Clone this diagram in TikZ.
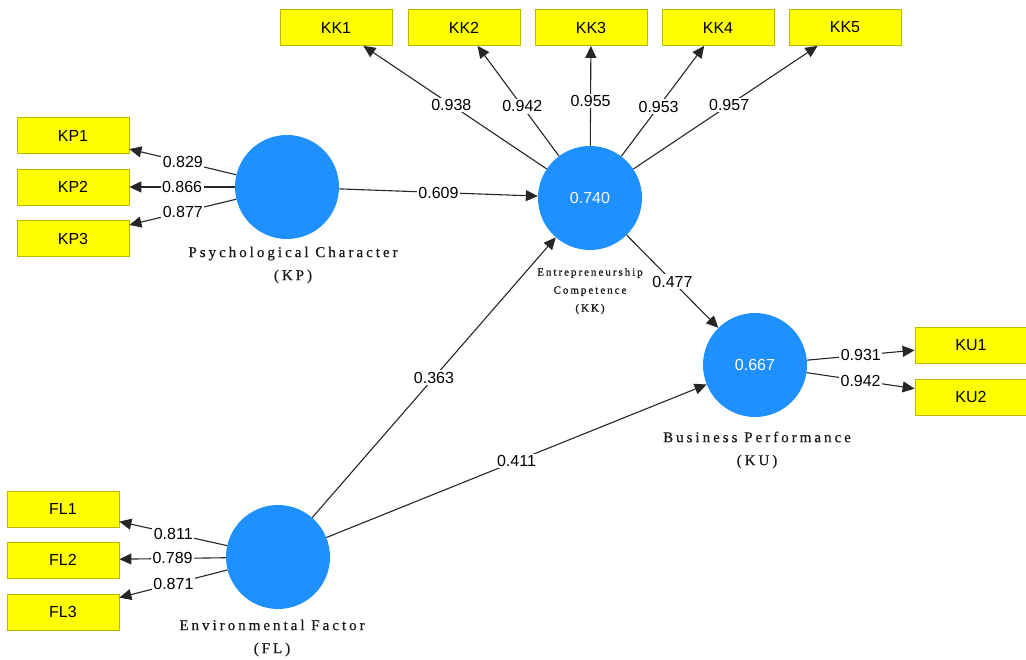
\documentclass[tikz,border=0pt]{standalone}
\usepackage{fontspec}
\setmainfont{Liberation Sans}
\newfontfamily\lvfont[LetterSpace=20,FakeBold=0.6]{Liberation Serif}
\newfontfamily\lvsmallfont[LetterSpace=18,FakeBold=1.2]{Liberation Serif}
\usetikzlibrary{arrows.meta}
\definecolor{lvblue}{RGB}{30,144,255}
\definecolor{mvyellow}{RGB}{255,255,0}
\definecolor{mvborder}{RGB}{185,185,0}
\tikzset{
  lv/.style={circle, fill=lvblue, minimum size=104pt, inner sep=0pt, text=white, font=\fontsize{16}{19}\selectfont},
  mv/.style={rectangle, fill=mvyellow, draw=mvborder, line width=0.8pt, minimum width=112pt, minimum height=36pt, inner sep=0pt, font=\fontsize{16}{19}\selectfont},
  conn/.style={draw=black!85, line width=1.1pt, -{Triangle[length=12pt,width=11pt]}},
  lbl/.style={fill=white, inner sep=1.5pt, text=black, font=\fontsize{16}{19}\selectfont},
  lvname/.style={align=center, text=black!90, font={\lvfont\fontsize{15}{23}\selectfont}},
  lvsmall/.style={align=center, text=black!90, font={\lvsmallfont\fontsize{11}{18}\selectfont}},
}
\begin{document}
\begin{tikzpicture}[x=1pt,y=-1pt]
\useasboundingbox (0,0) rectangle (1026,660);
% latent variables
\node[lv] (kp) at (287,187) {};
\node[lv] (kk) at (590,198) {0.740};
\node[lv] (ku) at (755,365) {0.667};
\node[lv] (fl) at (278,557) {};
% latent names
\node[lvname] (kpn) at (293,265) {Psychological Character\\(KP)};
\node[lvsmall] (kkn) at (590,291) {Entrepreneurship\\Competence\\(KK)};
\node[lvname] (kun) at (757,450) {Business Performance\\(KU)};
\node[lvname] (fln) at (272,638) {Environmental Factor\\(FL)};
% indicators
\node[mv] (kk1) at (336,27.5) {KK1};
\node[mv] (kk2) at (464,27.5) {KK2};
\node[mv] (kk3) at (591,27.5) {KK3};
\node[mv] (kk4) at (718,27.5) {KK4};
\node[mv] (kk5) at (845,27.5) {KK5};
\node[mv] (kp1) at (73,135.5) {KP1};
\node[mv] (kp2) at (73,187) {KP2};
\node[mv] (kp3) at (73,238.5) {KP3};
\node[mv] (ku1) at (971,345) {KU1};
\node[mv] (ku2) at (971,397) {KU2};
\node[mv] (fl1) at (63,509) {FL1};
\node[mv] (fl2) at (63,560) {FL2};
\node[mv] (fl3) at (63,612) {FL3};
% outer loadings
\draw[conn] (kp) -- node[lbl] {0.829} (kp1);
\draw[conn] (kp) -- node[lbl] {0.866} (kp2);
\draw[conn] (kp) -- node[lbl] {0.877} (kp3);
\draw[conn] (kk) -- node[lbl,pos=0.52] {0.938} (kk1);
\draw[conn] (kk) -- node[lbl,pos=0.45] {0.942} (kk2);
\draw[conn] (kk) -- node[lbl,pos=0.45] {0.955} (kk3);
\draw[conn] (kk) -- node[lbl,pos=0.45] {0.953} (kk4);
\draw[conn] (kk) -- node[lbl,pos=0.52] {0.957} (kk5);
\draw[conn] (ku) -- node[lbl] {0.931} (ku1);
\draw[conn] (ku) -- node[lbl] {0.942} (ku2);
\draw[conn] (fl) -- node[lbl] {0.811} (fl1);
\draw[conn] (fl) -- node[lbl] {0.789} (fl2);
\draw[conn] (fl) -- node[lbl] {0.871} (fl3);
% paths
\draw[conn] (kp) -- node[lbl] {0.609} (kk);
\draw[conn] (kk) -- node[lbl] {0.477} (ku);
\draw[conn] (fl) -- node[lbl] {0.363} (kk);
\draw[conn] (fl) -- node[lbl] {0.411} (ku);
\end{tikzpicture}
\end{document}
